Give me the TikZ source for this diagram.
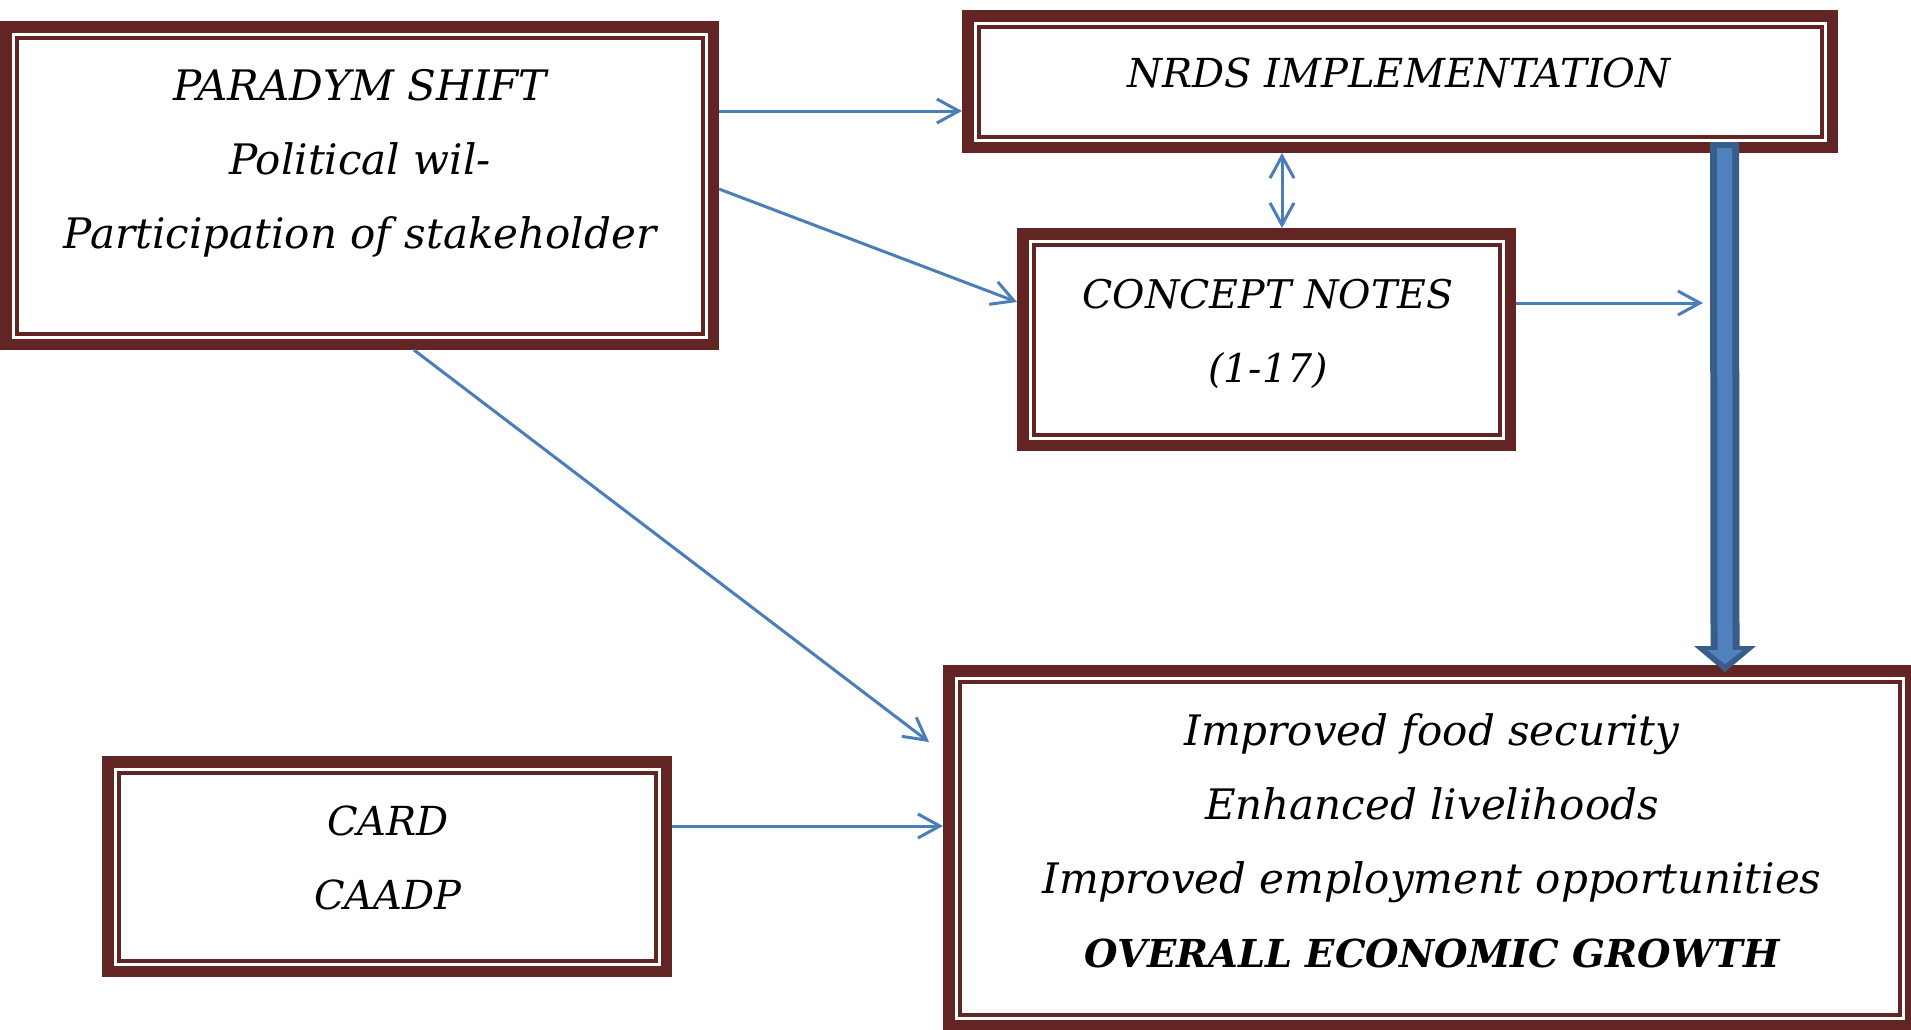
\documentclass[tikz,border=0pt]{standalone}
\usepackage{fontspec}
\setmainfont{DejaVu Serif}
\usetikzlibrary{arrows.meta,calc}
\definecolor{boxbrown}{HTML}{632523}
\definecolor{arrblue}{HTML}{4A7EBB}
\definecolor{thickfill}{HTML}{4F81BD}
\definecolor{thickedge}{HTML}{385D8A}
\begin{document}
\begin{tikzpicture}[x=1pt,y=-1pt,
 box/.style={draw=boxbrown, line width=11.5pt, fill=white, inner sep=0pt, rectangle},
 innerline/.style={draw=boxbrown, line width=4pt},
 txt/.style={align=center, font=\fontsize{#1}{74}\selectfont\itshape, inner sep=0pt},
 conn/.style={draw=arrblue, line width=3pt, -{Straight Barb[length=22pt,width=24pt,line width=3pt]}},
 conn2/.style={draw=arrblue, line width=3pt, {Straight Barb[length=22pt,width=24pt,line width=3pt]}-{Straight Barb[length=22pt,width=24pt,line width=3pt]}},
]
\useasboundingbox (0,0) rectangle (1911,1029);
\fill[white] (0,0) rectangle (1911,1029);

\node[box, minimum width=707.5pt, minimum height=317.5pt] (b1) at (359.5,185.5) {};
\node[box, minimum width=864.5pt, minimum height=131.5pt] (nrds) at (1400,81.5) {};
\node[box, minimum width=487.5pt, minimum height=211.5pt] (concept) at (1266.5,339.5) {};
\node[box, minimum width=558.5pt, minimum height=209.5pt] (card) at (387,866.5) {};
\node[box, minimum width=961.5pt, minimum height=354.5pt] (outcome) at (1429.5,848) {};

% inner thin frame (anchors lie on the outer edge of the thick frame)
\foreach \bx in {b1,nrds,concept,card,outcome}{
  \draw[innerline] ($(\bx.north west)+(16.5,16.5)$) rectangle ($(\bx.south east)+(-16.5,-16.5)$);
}

\node[txt=42] (b1t) at (360,163) {PARADYM SHIFT\\Political wil-\\Participation of stakeholder};
\node[txt=40] (nrdst) at (1399,73) {NRDS IMPLEMENTATION};
\node[txt=39.5] (conceptt) at (1268,334) {CONCEPT NOTES\\(1-17)};
\node[txt=40] (cardt) at (388,858) {CARD\\CAADP};
\node[txt=42] (outt) at (1432,841) {Improved food security\\Enhanced livelihoods\\Improved employment opportunities\\{\fontsize{38.5}{74}\selectfont\bfseries OVERALL ECONOMIC GROWTH}};

% thick block arrow from NRDS down to the outcome box
\coordinate (tatop) at ($(nrds.south -| 1724.5,0)+(0,-11)$);
\coordinate (tatip) at (1725,672);
\fill[thickedge]
  ($(tatop)+(-14.5,0)$) -- ($(tatop)+(14.5,0)$) -- ($(tatip)+(14.5,-26)$) -- ($(tatip)+(31,-26)$)
  -- (tatip) -- ($(tatip)+(-31,-26)$) -- ($(tatip)+(-14.5,-26)$) -- cycle;
\fill[thickfill]
  ($(tatop)+(-7.5,6)$) -- ($(tatop)+(7.5,6)$) -- ($(tatip)+(7.5,-22)$) -- ($(tatip)+(18,-22)$)
  -- ($(tatip)+(0,-8)$) -- ($(tatip)+(-18,-22)$) -- ($(tatip)+(-7.5,-22)$) -- cycle;

% thin connectors
\coordinate (e3) at (929,742);
\coordinate (e5) at (1703,303);
\draw[conn] (b1.east |- 0,111) -- (nrds.west |- 0,111);
\draw[conn] (b1.east |- 0,189) -- (concept.west |- 0,302);
\draw[conn] (b1.south -| 414,0) -- (e3);
\draw[conn2] (nrds.south -| 1282,0) -- (concept.north -| 1282,0);
\draw[conn] (concept.east |- 0,303) -- (e5);
\draw[conn] (card.east |- 0,826) -- (outcome.west |- 0,826);
\end{tikzpicture}
\end{document}
